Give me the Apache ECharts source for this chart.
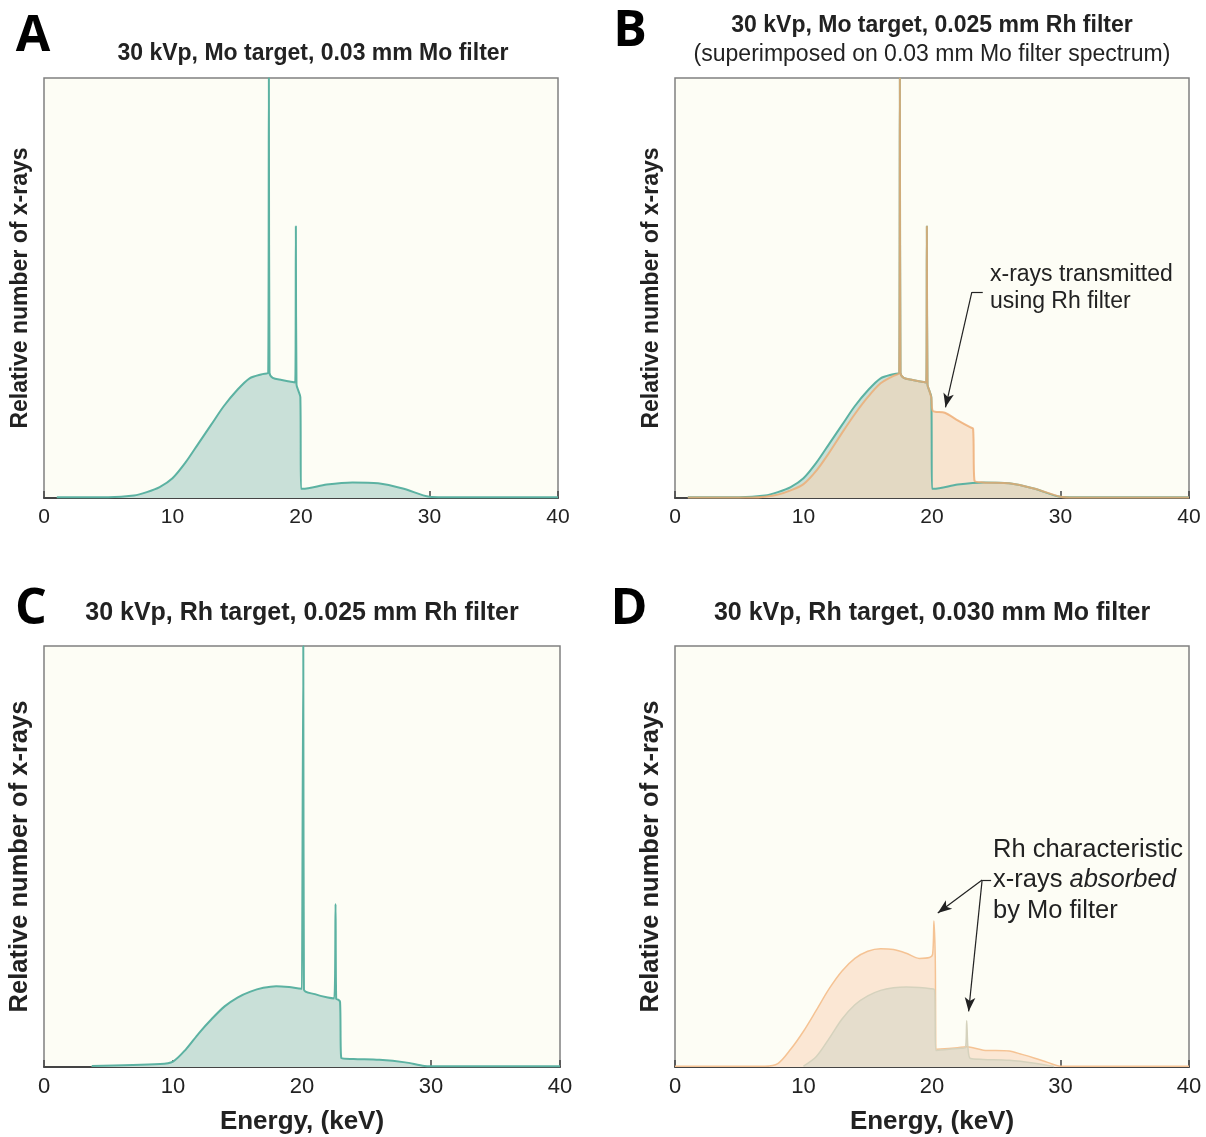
<!DOCTYPE html>
<html>
<head>
<meta charset="utf-8">
<script src="https://cdn.jsdelivr.net/npm/echarts@6/dist/echarts.min.js"></script>
<style>
  body { margin: 0; background: #fff; }
  #chart { width: 1206px; height: 1137px; }
</style>
</head>
<body>
<div id="chart"></div>
<script>
// energy (keV) / relative number (% of plot height)
// A: 30 kVp, Mo target, 0.03 mm Mo filter (also the teal curve in B)
var moMoE = [1, 5, 7, 8, 9, 10, 11, 12, 13, 14, 15, 16, 17, 17.45, 17.5, 17.55, 17.8, 18.5, 19.2, 19.55, 19.6, 19.65, 19.8, 19.95, 20.0, 20.1, 22, 24, 26, 28, 30, 31, 40];
var moMoN = [0.2, 0.2, 0.6, 1.4, 2.6, 4.7, 8.4, 12.9, 17.4, 21.9, 25.6, 28.5, 29.5, 29.8, 100, 29.8, 28.6, 28.1, 27.7, 27.5, 64.7, 27, 25.5, 24, 2.2, 2.2, 3.2, 3.7, 3.5, 2.2, 0.3, 0.2, 0.2];

// B: 30 kVp, Mo target, 0.025 mm Rh filter
var moRhE = [1, 6, 7, 8, 9, 10, 11, 12, 13, 14, 15, 16, 17, 17.45, 17.5, 17.55, 17.8, 18.5, 19.2, 19.55, 19.6, 19.65, 19.8, 19.95, 20.05, 21, 22, 23, 23.2, 23.3, 24, 26, 28, 30, 31, 40];
var moRhN = [0.1, 0.1, 0.3, 0.8, 1.8, 3.3, 6.5, 10.8, 15.5, 20.0, 24.0, 27.3, 29.1, 29.8, 100, 29.8, 28.6, 28.1, 27.7, 27.5, 64.7, 27, 25.5, 23.8, 20.8, 20.3, 18.5, 16.8, 16.5, 4.2, 3.7, 3.5, 2.2, 0.3, 0.1, 0.1];

// C: 30 kVp, Rh target, 0.025 mm Rh filter
var rhRhE = [3.7, 9, 10, 11, 12, 13, 14, 15, 16, 17, 18, 19, 20, 20.05, 20.1, 20.15, 21, 22, 22.5, 22.6, 22.65, 22.8, 22.95, 23.05, 24, 26, 28, 29.5, 30, 40];
var rhRhN = [0.25, 0.7, 1.3, 4.2, 8.0, 11.4, 14.4, 16.5, 17.9, 18.8, 19.2, 19.0, 18.6, 18.6, 100, 18.4, 17.3, 16.5, 16.3, 38.7, 16.2, 16.0, 15.5, 2.1, 1.9, 1.7, 1.1, 0.25, 0.2, 0.2];

// D: 30 kVp, Rh target -- peach (upper) and Mo filtered (tan)
var rhUpE = [0, 7, 8, 9, 10, 11, 12, 13, 14, 15, 16, 17, 18, 19, 19.8, 20.05, 20.15, 20.25, 20.35, 22, 22.7, 24, 26, 27, 28, 29, 30, 40];
var rhUpN = [0.2, 0.2, 0.8, 4.2, 8.5, 13.5, 18.6, 22.8, 25.8, 27.5, 28.1, 27.9, 27.0, 25.8, 26.0, 26.8, 34.7, 26.5, 4.2, 4.6, 4.8, 4.0, 3.8, 3.0, 2.1, 1.1, 0.2, 0.2];
var rhMoE = [10, 11, 12, 13, 14, 15, 16, 17, 18, 19, 19.9, 20.2, 20.3, 21, 22, 22.6, 22.7, 22.8, 23, 24, 26, 28, 29.5];
var rhMoN = [0.2, 2.5, 6.8, 11.4, 14.8, 16.9, 18.2, 18.8, 19.0, 18.9, 18.6, 18.3, 3.9, 4.1, 4.4, 4.6, 11.0, 4.5, 2.0, 1.8, 1.6, 0.9, 0.1];

var xTicks = [0, 10, 20, 30, 40];

function pairs(xs, ys) {
    return xs.map(function (x, i) { return [x, ys[i]]; });
}

var teal = '#5cb2a2';
var FONT = '"Liberation Sans", Arial, sans-serif';
var grids = [
    { left: 44, top: 78, width: 514, height: 420 },
    { left: 675, top: 78, width: 514, height: 420 },
    { left: 44, top: 646, width: 516, height: 421 },
    { left: 675, top: 646, width: 514, height: 421 }
];
grids.forEach(function (g) {
    g.show = true;
    g.backgroundColor = '#fdfdf5';
    g.borderColor = '#808080';
    g.borderWidth = 1.5;
});

var xAxes = [], yAxes = [];
for (var i = 0; i < 4; i++) {
    var big = i >= 2;
    xAxes.push({
        gridIndex: i, type: 'value', min: xTicks[0], max: xTicks[xTicks.length - 1], interval: 10,
        name: big ? 'Energy, (keV)' : '', nameLocation: 'middle', nameGap: 42,
        nameTextStyle: { fontFamily: FONT, fontWeight: 'bold', fontSize: 26, color: '#222' },
        axisLine: { lineStyle: { color: '#444', width: 2 } },
        axisTick: { inside: true, length: 7, lineStyle: { color: '#444', width: 1.5 } },
        axisLabel: { fontFamily: FONT, fontSize: big ? 22 : 21, color: '#222', margin: 9 },
        splitLine: { show: false }
    });
    yAxes.push({
        gridIndex: i, type: 'value', min: 0, max: 100,
        name: 'Relative number of x-rays', nameLocation: 'middle', nameRotate: 90, nameGap: big ? 11 : 12,
        nameTextStyle: { fontFamily: FONT, fontWeight: 'bold', fontSize: big ? 25.5 : 23, color: '#222' },
        axisLine: { show: false }, axisTick: { show: false }, axisLabel: { show: false },
        splitLine: { show: false }
    });
}

function arrowLine(from, to) {
    return [{ coord: from }, { coord: to }];
}

function spectrum(ax, xs, ys, line, lineW, fill) {
    return {
        type: 'line', xAxisIndex: ax, yAxisIndex: ax, data: pairs(xs, ys),
        symbol: 'none', smooth: 0.3,
        lineStyle: { color: line, width: lineW },
        areaStyle: { color: fill, opacity: 1 }
    };
}

var arrowStyle = { color: '#222', width: 1.2, type: 'solid' };

var sB = spectrum(1, moRhE, moRhN, 'rgba(238,170,112,0.8)', 2, 'rgba(245,211,182,0.6)');
sB.markLine = {
    silent: true, symbol: ['none', 'arrow'], symbolSize: [8, 14], label: { show: false },
    lineStyle: arrowStyle,
    data: [arrowLine([23.1, 49], [21.05, 21.6])]
};
var sD = spectrum(3, rhMoE, rhMoN, '#d5d2bd', 1.5, '#e5ddcc');
sD.markLine = {
    silent: true, symbol: ['none', 'arrow'], symbolSize: [8, 14], label: { show: false },
    lineStyle: arrowStyle,
    data: [
        arrowLine([23.9, 44.4], [20.45, 36.6]),
        arrowLine([23.9, 44.4], [22.85, 13.2])
    ]
};

var option = {
    animation: false,
    backgroundColor: '#fff',
    grid: grids,
    xAxis: xAxes,
    yAxis: yAxes,
    series: [
        spectrum(0, moMoE, moMoN, teal, 2, '#c9e0d8'),
        spectrum(1, moMoE, moMoN, teal, 2, '#c9e0d8'),
        sB,
        {
            type: 'line', xAxisIndex: 1, yAxisIndex: 1, data: [],
            markLine: {
                silent: true, symbol: 'none', label: { show: false }, lineStyle: arrowStyle,
                data: [arrowLine([23.1, 49], [23.95, 49])]
            }
        },
        spectrum(2, rhRhE, rhRhN, teal, 2, '#c9e0d8'),
        spectrum(3, rhUpE, rhUpN, '#f5c394', 1.5, '#fbe7d4'),
        sD,
        {
            type: 'line', xAxisIndex: 3, yAxisIndex: 3, data: [],
            markLine: {
                silent: true, symbol: 'none', label: { show: false }, lineStyle: arrowStyle,
                data: [arrowLine([23.9, 44.4], [24.6, 44.4])]
            }
        }
    ],
    graphic: [
        { type: 'text', x: 33, y: 37, style: { text: 'A', font: 'bold 50px "Open Sans"', fill: '#000', align: 'center', verticalAlign: 'middle' } },
        { type: 'text', x: 630, y: 32, style: { text: 'B', font: 'bold 50px "Open Sans"', fill: '#000', align: 'center', verticalAlign: 'middle' } },
        { type: 'text', x: 31, y: 610, style: { text: 'C', font: 'bold 50px "Open Sans"', fill: '#000', align: 'center', verticalAlign: 'middle' } },
        { type: 'text', x: 629, y: 610, style: { text: 'D', font: 'bold 50px "Open Sans"', fill: '#000', align: 'center', verticalAlign: 'middle' } },

        { type: 'text', x: 313, y: 54, style: { text: '30 kVp, Mo target, 0.03 mm Mo filter', font: 'bold 23px ' + FONT, fill: '#222', align: 'center', verticalAlign: 'middle' } },
        { type: 'text', x: 932, y: 26, style: { text: '30 kVp, Mo target, 0.025 mm Rh filter', font: 'bold 23px ' + FONT, fill: '#222', align: 'center', verticalAlign: 'middle' } },
        { type: 'text', x: 932, y: 55, style: { text: '(superimposed on 0.03 mm Mo filter spectrum)', font: '23px ' + FONT, fill: '#222', align: 'center', verticalAlign: 'middle' } },
        { type: 'text', x: 302, y: 613, style: { text: '30 kVp, Rh target, 0.025 mm Rh filter', font: 'bold 25px ' + FONT, fill: '#222', align: 'center', verticalAlign: 'middle' } },
        { type: 'text', x: 932, y: 613, style: { text: '30 kVp, Rh target, 0.030 mm Mo filter', font: 'bold 25px ' + FONT, fill: '#222', align: 'center', verticalAlign: 'middle' } },

        { type: 'text', x: 990, y: 288, style: { text: 'x-rays transmitted\nusing Rh filter', font: '23px ' + FONT, lineHeight: 27, fill: '#222', align: 'left', verticalAlign: 'middle' } },
        {
            type: 'text', x: 993, y: 880,
            style: {
                text: '{n|Rh characteristic}\n{n|x-rays }{i|absorbed}\n{n|by Mo filter}',
                fill: '#222', align: 'left', verticalAlign: 'middle',
                rich: {
                    n: { font: '25.5px ' + FONT, lineHeight: 30.5, fill: '#222' },
                    i: { font: 'italic 25.5px ' + FONT, lineHeight: 30.5, fill: '#222' }
                }
            }
        }
    ]
};

var chart = echarts.init(document.getElementById('chart'));
chart.setOption(option);
window.addEventListener('resize', function () {
    chart.resize();
});
</script>
</body>
</html>
